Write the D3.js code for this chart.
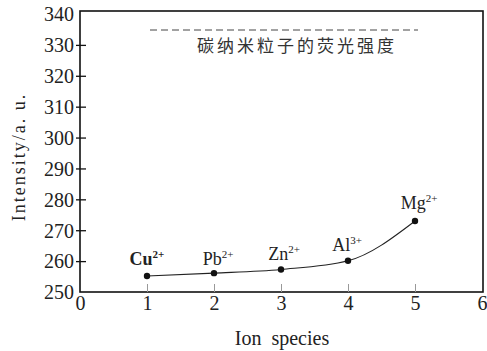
<!DOCTYPE html>
<html>
<head>
<meta charset="utf-8">
<script src="https://cdn.jsdelivr.net/npm/d3@7"></script>
<style>
  body { margin: 0; background: #fff; }
</style>
</head>
<body>
<svg id="chart" width="487" height="351"></svg>
<script>
// data
const ions = ["Cu", "Pb", "Zn", "Al", "Mg"];
const charges = ["2+", "2+", "2+", "3+", "2+"];
const xPos = [1, 2, 3, 4, 5];
const intensity = [255.2, 256.1, 257.3, 260.1, 273.0];
const xTicks = [0, 1, 2, 3, 4, 5, 6];
const yTicks = [250, 260, 270, 280, 290, 300, 310, 320, 330, 340];
const refLabel = "碳纳米粒子的荧光强度";

const serif = "'Liberation Serif', 'Times New Roman', Times, serif";
const margin = { left: 80, right: 5, top: 11, bottom: 59 };
const svg = d3.select("#chart");

const x = d3.scaleLinear().domain([0, 6]).range([margin.left, 482]);
const y = d3.scaleLinear().domain([250, 340]).range([292, 14]);

// frame
svg.append("rect")
  .attr("x", margin.left).attr("y", margin.top)
  .attr("width", 483 - margin.left).attr("height", 292 - margin.top)
  .attr("fill", "none").attr("stroke", "#111").attr("stroke-width", 1.6);

// y axis
const yAxis = svg.append("g")
  .attr("transform", `translate(${margin.left},0)`)
  .call(d3.axisLeft(y).tickValues(yTicks).tickFormat(d3.format("d")).tickSize(4).tickPadding(2));
yAxis.select(".domain").remove();
yAxis.selectAll(".tick line").attr("x2", 6).attr("x1", -4).attr("stroke", "#111").attr("stroke-width", 1.3);
yAxis.selectAll("text")
  .style("font-family", serif).style("font-size", "20px").attr("fill", "#222")
  .attr("dy", "0.34em");
yAxis.selectAll(".tick").filter(d => d === 250 || d === 340).select("line").remove();

// x axis
const xAxis = svg.append("g")
  .attr("transform", "translate(0,292)")
  .call(d3.axisBottom(x).tickValues(xTicks).tickFormat(d3.format("d")).tickSize(0).tickPadding(3));
xAxis.select(".domain").remove();
xAxis.selectAll("text")
  .style("font-family", serif).style("font-size", "20px").attr("fill", "#222")
  .attr("dy", "0.75em");
xAxis.selectAll(".tick").filter(d => d >= 1 && d <= 5)
  .append("line").attr("y1", 0).attr("y2", -8).attr("stroke", "#999").attr("stroke-width", 1);

// axis titles
svg.append("text")
  .attr("transform", "translate(25,157) rotate(-90)")
  .attr("text-anchor", "middle")
  .attr("letter-spacing", 2)
  .style("font-family", serif).style("font-size", "18px").attr("fill", "#222")
  .text("Intensity/a. u.");
svg.append("text")
  .attr("x", 282).attr("y", 345)
  .attr("text-anchor", "middle")
  .style("font-family", serif).style("font-size", "20px").attr("fill", "#222")
  .text("Ion\u00a0\u00a0species");

// reference (carbon nanoparticles intensity)
svg.append("line")
  .attr("x1", 150).attr("x2", 418).attr("y1", 30).attr("y2", 30)
  .attr("stroke", "#444").attr("stroke-width", 1).attr("stroke-dasharray", "7,4");
svg.append("text")
  .attr("x", 297).attr("y", 52)
  .attr("text-anchor", "middle")
  .attr("letter-spacing", 3)
  .style("font-family", "'Noto Sans CJK SC', sans-serif").style("font-size", "17px").attr("fill", "#333")
  .text(refLabel);

// curve
const pts = xPos.map((d, i) => ({ x: d, v: intensity[i] }));
const line = d3.line().x(d => x(d.x)).y(d => y(d.v)).curve(d3.curveMonotoneX);
svg.append("path").datum(pts)
  .attr("d", line).attr("fill", "none").attr("stroke", "#222").attr("stroke-width", 1.1);

svg.selectAll("circle.pt").data(pts).enter().append("circle")
  .attr("class", "pt")
  .attr("cx", d => x(d.x)).attr("cy", d => y(d.v)).attr("r", 3.2).attr("fill", "#111");

// ion labels
const labelDx = [0, 4, 3, -1, 4];
const labelDy = [-11, -8, -9, -10, -12];
const lab = svg.selectAll("text.ion").data(pts).enter().append("text")
  .attr("class", "ion")
  .attr("x", (d, i) => x(d.x) + labelDx[i])
  .attr("y", (d, i) => y(d.v) + labelDy[i])
  .attr("text-anchor", "middle")
  .style("font-family", serif).style("font-size", "18px").attr("fill", "#222")
  .attr("font-weight", (d, i) => i === 0 ? "bold" : "normal");
lab.append("tspan").text((d, i) => ions[i]);
lab.append("tspan").style("font-size", "11px").attr("dy", -7).text((d, i) => charges[i]);
</script>
</body>
</html>
